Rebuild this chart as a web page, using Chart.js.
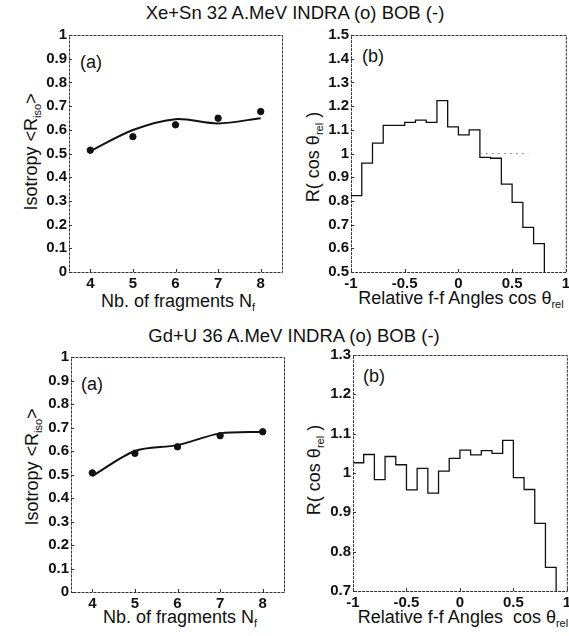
<!DOCTYPE html>
<html>
<head>
<meta charset="utf-8">
<script src="https://cdn.jsdelivr.net/npm/chart.js@4.4.1/dist/chart.umd.min.js"></script>
<style>
  html, body { margin: 0; padding: 0; background: #fff; }
  body { width: 569px; height: 636px; position: relative; overflow: hidden;
         font-family: "Liberation Sans", Arial, Helvetica, sans-serif; color: #111; }
  canvas { position: absolute; }
  .lbl { position: absolute; white-space: nowrap; line-height: 1; }
  .title { font-size: 18.5px; transform: translateX(-50%); }
  .xt { font-size: 18px; transform: translateX(-50%); }
  .yt { font-size: 18px; transform: translate(-50%, -50%) rotate(-90deg); }
  .tag { font-size: 18px; }
  sub { font-size: 11px; vertical-align: -4px; line-height: 0; }
</style>
</head>
<body>
<div class="lbl title" style="left:295px; top:4px;">Xe+Sn 32 A.MeV INDRA (o) BOB (-)</div>
<div class="lbl title" style="left:294px; top:327px;">Gd+U 36 A.MeV INDRA (o) BOB (-)</div>

<div class="lbl xt" style="left:178px; top:292px;">Nb. of fragments N<sub>f</sub></div>
<div class="lbl xt" style="left:461px; top:289px;">Relative f-f Angles cos &theta;<sub>rel</sub></div>
<div class="lbl xt" style="left:180px; top:608px;">Nb. of fragments N<sub>f</sub></div>
<div class="lbl xt" style="left:463px; top:608px;">Relative f-f Angles&nbsp; cos &theta;<sub>rel</sub></div>

<div class="lbl yt" style="left:31px; top:152px;">Isotropy &lt;R<sub>iso</sub>&gt;</div>
<div class="lbl yt" style="left:313px; top:157px;">R( cos &theta;<sub>rel</sub> )</div>
<div class="lbl yt" style="left:32px; top:467px;">Isotropy &lt;R<sub>iso</sub>&gt;</div>
<div class="lbl yt" style="left:314px; top:470px;">R( cos &theta;<sub>rel</sub> )</div>

<div class="lbl tag" style="left:80px; top:53px;">(a)</div>
<div class="lbl tag" style="left:362px; top:47px;">(b)</div>
<div class="lbl tag" style="left:81px; top:375px;">(a)</div>
<div class="lbl tag" style="left:363px; top:367px;">(b)</div>

<canvas id="xeIso"></canvas>
<canvas id="xeAng"></canvas>
<canvas id="gdIso"></canvas>
<canvas id="gdAng"></canvas>

<script>
// multiplicity of fragments
const nFrag = [4, 5, 6, 7, 8];
// Xe+Sn 32 A.MeV isotropy
const xeIndra = [0.514, 0.571, 0.621, 0.649, 0.677];
const xeBob = [0.510, 0.599, 0.645, 0.627, 0.649];
// Gd+U 36 A.MeV isotropy
const gdIndra = [0.507, 0.590, 0.618, 0.665, 0.682];
const gdBob = [0.493, 0.600, 0.625, 0.675, 0.682];

// relative angle histograms, bin edges and contents
const xeEdges = [-1, -0.9, -0.8, -0.7, -0.6, -0.5, -0.4, -0.3, -0.2, -0.1, 0, 0.1, 0.2, 0.3, 0.4, 0.5, 0.6, 0.7, 0.8];
const xeRcos = [0.822, 0.959, 1.044, 1.119, 1.119, 1.131, 1.141, 1.131, 1.223, 1.112, 1.079, 1.100, 0.984, 0.980, 0.871, 0.794, 0.688, 0.620];
const gdEdges = [-1, -0.9, -0.8, -0.7, -0.6, -0.5, -0.4, -0.3, -0.2, -0.1, 0, 0.1, 0.2, 0.3, 0.4, 0.5, 0.6, 0.7, 0.8, 0.9];
const gdRcos = [1.026, 1.047, 0.983, 1.042, 1.021, 0.957, 1.012, 0.949, 1.005, 1.037, 1.058, 1.046, 1.057, 1.050, 1.083, 0.988, 0.958, 0.872, 0.760];
// dotted unit line in the Xe+Sn angle panel
const xeUnitX = [0.2, 0.65];
const xeUnitY = [1, 1];

const FONT = '"Liberation Sans", Arial, Helvetica, sans-serif';
const INK = '#111';

// frame round the plot area + small inward ticks
const framePlugin = {
    id: 'frame',
    afterDraw(chart) {
        const { ctx, chartArea: a, scales } = chart;
        ctx.save();
        ctx.strokeStyle = '#333';
        ctx.lineWidth = 1;
        ctx.setLineDash([3, 1]);
        ctx.strokeRect(a.left + 0.5, a.top + 0.5, a.right - a.left, a.bottom - a.top);
        ctx.setLineDash([]);
        ctx.beginPath();
        scales.x.ticks.forEach(t => {
            const px = Math.round(scales.x.getPixelForValue(t.value)) + 0.5;
            ctx.moveTo(px, a.bottom); ctx.lineTo(px, a.bottom - 3);
        });
        scales.y.ticks.forEach(t => {
            const py = Math.round(scales.y.getPixelForValue(t.value)) + 0.5;
            ctx.moveTo(a.left, py); ctx.lineTo(a.left + 3, py);
        });
        ctx.stroke();
        ctx.restore();
    }
};

// left edge of each bin carries its content, last edge drops to the axis
function histPoints(edges, vals, floor) {
    const pts = vals.map((v, i) => ({ x: edges[i], y: v }));
    pts.push({ x: edges[vals.length], y: vals[vals.length - 1] });
    pts.push({ x: edges[vals.length], y: floor });
    return pts;
}

function makeChart(id, box, datasets, xs, ys, padR) {
    const yW = 48, xH = 24, padT = 14;
    const cv = document.getElementById(id);
    cv.width = box.R - box.L + yW + padR;
    cv.height = box.B - box.T + padT + xH;
    cv.style.left = (box.L - yW) + 'px';
    cv.style.top = (box.T - padT) + 'px';
    const tickFont = { family: FONT, size: 15, weight: 'bold' };
    return new Chart(cv.getContext('2d'), {
        type: 'line',
        data: { datasets },
        options: {
            responsive: false,
            animation: false,
            layout: { padding: { top: padT, right: padR, left: 0, bottom: 0 } },
            plugins: { legend: { display: false }, tooltip: { enabled: false } },
            scales: {
                x: {
                    type: 'linear', min: xs.min, max: xs.max,
                    afterBuildTicks: s => { s.ticks = xs.ticks.map(v => ({ value: v })); },
                    afterFit: s => { s.height = xH; },
                    grid: { display: false, drawTicks: false },
                    border: { display: false },
                    ticks: { color: INK, font: tickFont, padding: 3, maxRotation: 0,
                             callback: v => String(+v.toFixed(2)) }
                },
                y: {
                    type: 'linear', min: ys.min, max: ys.max,
                    afterBuildTicks: s => { s.ticks = ys.ticks.map(v => ({ value: v })); },
                    afterFit: s => { s.width = yW; },
                    grid: { display: false, drawTicks: false },
                    border: { display: false },
                    ticks: { color: INK, font: tickFont, padding: 2,
                             callback: v => String(+v.toFixed(2)) }
                }
            }
        },
        plugins: [framePlugin]
    });
}

const isoTicks = [0, 0.1, 0.2, 0.3, 0.4, 0.5, 0.6, 0.7, 0.8, 0.9, 1];
const nTicks = [4, 5, 6, 7, 8];
const cosTicks = [-1, -0.5, 0, 0.5, 1];

function isoSets(bob, indra) {
    return [
        { data: nFrag.map((n, i) => ({ x: n, y: bob[i] })), borderColor: INK, borderWidth: 2,
          tension: 0.3, pointRadius: 0, fill: false },
        { data: nFrag.map((n, i) => ({ x: n, y: indra[i] })), showLine: false,
          pointRadius: 3.2, pointBackgroundColor: INK, pointBorderColor: INK }
    ];
}

makeChart('xeIso', { L: 69, T: 35, R: 283, B: 272 }, isoSets(xeBob, xeIndra),
    { min: 3.5, max: 8.5, ticks: nTicks }, { min: 0, max: 1, ticks: isoTicks }, 4);

makeChart('gdIso', { L: 71, T: 357, R: 285, B: 592 }, isoSets(gdBob, gdIndra),
    { min: 3.5, max: 8.5, ticks: nTicks }, { min: 0, max: 1, ticks: isoTicks }, 4);

makeChart('xeAng', { L: 351, T: 35, R: 567, B: 272 }, [
    { data: xeUnitX.map((x, i) => ({ x, y: xeUnitY[i] })), borderColor: '#999', borderWidth: 1,
      borderDash: [2, 4], pointRadius: 0 },
    { data: histPoints(xeEdges, xeRcos, 0.5), stepped: 'before', borderColor: INK, borderWidth: 1.3,
      pointRadius: 0 }
], { min: -1, max: 1, ticks: cosTicks },
   { min: 0.5, max: 1.5, ticks: [0.5, 0.6, 0.7, 0.8, 0.9, 1, 1.1, 1.2, 1.3, 1.4, 1.5] }, 6);

makeChart('gdAng', { L: 353, T: 355, R: 568, B: 591 }, [
    { data: histPoints(gdEdges, gdRcos, 0.7), stepped: 'before', borderColor: INK, borderWidth: 1.3,
      pointRadius: 0 }
], { min: -1, max: 1, ticks: cosTicks },
   { min: 0.7, max: 1.3, ticks: [0.7, 0.8, 0.9, 1, 1.1, 1.2, 1.3] }, 6);
</script>
</body>
</html>
